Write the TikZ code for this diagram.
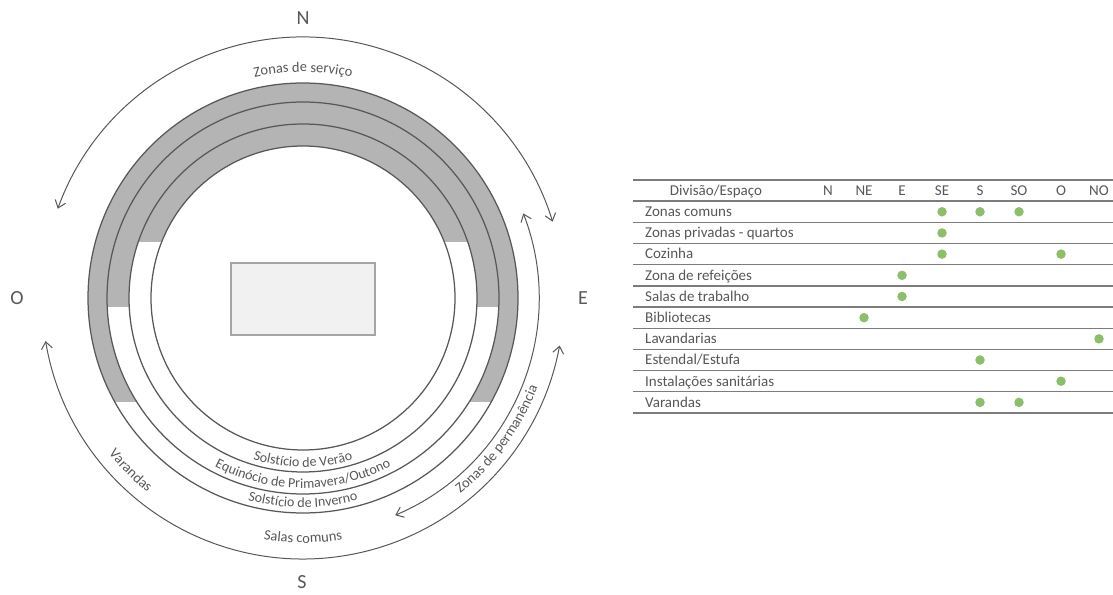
\documentclass[tikz,border=0pt]{standalone}
\usepackage{fontspec}
\setmainfont{Carlito}
\usetikzlibrary{decorations.text,arrows.meta}
\definecolor{ink}{HTML}{585858}
\definecolor{ring}{HTML}{585858}
\definecolor{ringfill}{HTML}{B4B4B4}
\definecolor{dotgreen}{HTML}{8DBF6B}
\definecolor{rulegray}{HTML}{7C7C7C}
\definecolor{boxfill}{HTML}{F1F1F1}
\definecolor{boxline}{HTML}{A5A5A5}
\newcommand\arcfont{\fontsize{14.5}{16}\selectfont}
\newcommand\bandfont{\fontsize{14}{16}\selectfont}
\begin{document}
\begin{tikzpicture}[x=1pt,y=1pt,
  compass/.style={font=\fontsize{20}{22}\selectfont, text=ink, inner sep=0pt},
  ringline/.style={draw=ring, line width=1.25pt},
  zonearrow/.style={draw=ring, line width=1pt,
    {Straight Barb[length=7pt,width=11pt]}-{Straight Barb[length=7pt,width=11pt]}},
  cell/.style={font=\fontsize{15}{17}\selectfont, text=ink, inner sep=0pt},
  tablerule/.style={draw=rulegray, line width=1.4pt},
  greendot/.style={circle, fill=dotgreen, minimum size=9.5pt, inner sep=0pt},
  arclabel/.style={decorate, decoration={text along path, text align=center, text color=ink}}
]
\useasboundingbox (0,0) rectangle (1113,594);
\fill[white] (0,0) rectangle (1113,594);

% ---------- sun-path diagram ----------
\coordinate (C) at (303,296);

\begin{scope}
  \clip (0,192) rectangle (1113,594);
  \fill[ringfill, even odd rule] (C) circle[radius=215] (C) circle[radius=196];
\end{scope}
\begin{scope}
  \clip (0,287) rectangle (1113,594);
  \fill[ringfill, even odd rule] (C) circle[radius=196] (C) circle[radius=174];
\end{scope}
\begin{scope}
  \clip (0,352) rectangle (1113,594);
  \fill[ringfill, even odd rule] (C) circle[radius=174] (C) circle[radius=152];
\end{scope}

\draw[ringline] (C) circle[radius=215];
\draw[ringline] (C) circle[radius=196];
\draw[ringline] (C) circle[radius=174];
\draw[ringline] (C) circle[radius=152];

\node[draw=boxline, fill=boxfill, line width=1.2pt, minimum width=144pt,
      minimum height=72pt, inner sep=0pt] (plan) at (303,295) {};

% zone arrows
\draw[zonearrow] (C) ++(160:261) arc[start angle=160, end angle=17, radius=261];
\draw[zonearrow] (C) ++(189.5:261) arc[start angle=189.5, end angle=349.5, radius=261];
\draw[zonearrow] (C) ++(21:236) arc[start angle=21, end angle=-67, radius=236];

% curved labels
\path[arclabel, decoration={text={|\arcfont|Zonas de serviço}}]
  (C) ++(150:226) arc[start angle=150, end angle=30, radius=226];
\path[arclabel, decoration={text={|\arcfont|Salas comuns}}]
  (C) ++(220:245) arc[start angle=220, end angle=320, radius=245];
\path[arclabel, decoration={text={|\arcfont|Varandas}}]
  (C) ++(195:249) arc[start angle=195, end angle=255, radius=249];
\path[arclabel, decoration={text={|\arcfont|Zonas de permanência}}]
  (C) ++(-76:251) arc[start angle=-76, end angle=4, radius=251];
\path[arclabel, decoration={text={|\bandfont|Solstício de Verão}}]
  (C) ++(220:169) arc[start angle=220, end angle=320, radius=169];
\path[arclabel, decoration={text={|\bandfont|Equinócio de Primavera/Outono}}]
  (C) ++(200:190) arc[start angle=200, end angle=340, radius=190];
\path[arclabel, decoration={text={|\bandfont|Solstício de Inverno}}]
  (C) ++(220:209.5) arc[start angle=220, end angle=320, radius=209.5];

% compass
\node[compass] (north) at (303,576) {N};
\node[compass] (south) at (302,12) {S};
\node[compass] (west) at (17,296) {O};
\node[compass] (east) at (583,296) {E};

% ---------- table ----------
\foreach \i in {0,...,11}
  \draw[tablerule] (633,{594-180-21.18*\i}) -- (1113,{594-180-21.18*\i});

\node[cell, anchor=base] (hdr) at (716,{594-180-21.18*0.5-4.8}) {Divisão/Espaço};
\foreach \c/\x in {N/828,NE/864,E/902,SE/942,S/980,SO/1019,O/1061,NO/1099}
  \node[cell, anchor=base] (col\c) at (\x,{594-180-21.18*0.5-4.8}) {\c};

\foreach \lab [count=\i] in {Zonas comuns,Zonas privadas - quartos,Cozinha,Zona de refeições,Salas de trabalho,Bibliotecas,Lavandarias,Estendal/Estufa,Instalações sanitárias,Varandas}{
  \coordinate (rowc\i) at (645,{594-180-21.18*(\i+0.5)});
  \node[cell, anchor=base west] (row\i) at (645,{594-180-21.18*(\i+0.5)-4.8}) {\lab};
}

\foreach \r/\c in {1/SE,1/S,1/SO,2/SE,3/SE,3/O,4/E,5/E,6/NE,7/NO,8/S,9/O,10/S,10/SO}
  \node[greendot] (dot\r\c) at (col\c |- rowc\r) {};
\end{tikzpicture}
\end{document}
